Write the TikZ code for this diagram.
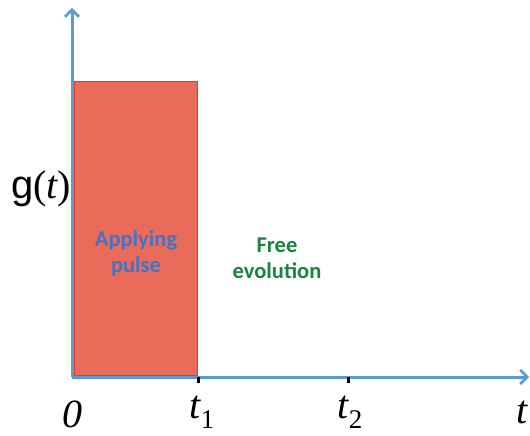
\documentclass[tikz,border=0pt]{standalone}
\usepackage{fontspec}
\setmainfont{Liberation Serif}
\newfontfamily\arialfont{Liberation Sans}
\newfontfamily\calfont{Carlito}
\usetikzlibrary{arrows.meta}
\definecolor{axisblue}{RGB}{91,155,213}
\definecolor{pulsefill}{RGB}{233,108,90}
\definecolor{pulseedge}{RGB}{232,55,47}
\definecolor{txtblue}{RGB}{68,114,196}
\definecolor{txtgreen}{RGB}{24,132,60}
\newcommand{\tsub}[1]{{\itshape t}\raisebox{-0.24em}{\fontsize{27}{27}\selectfont #1}}
\begin{document}
\begin{tikzpicture}[x=1pt,y=-1pt,
  axis/.style={draw=axisblue,line width=3pt,-{Straight Barb[length=7pt,width=14pt,line width=2.5pt]}},
  tick/.style={draw=black,line width=3pt},
  bigtxt/.style={font=\fontsize{40}{40}\selectfont,inner sep=0pt},
  lbl/.style={font=\calfont\bfseries\fontsize{22.5}{26}\selectfont,align=center,inner sep=0pt}]
\useasboundingbox (0,0) rectangle (530,436);
\coordinate (o) at (72,377);
\coordinate (ytop) at (72,8);
\coordinate (xend) at (529,377);
\node[draw=pulseedge,fill=pulsefill,line width=1pt,minimum width=123pt,minimum height=294pt,inner sep=0pt,anchor=north west] (pulse) at (74,81) {};
\draw[axis] (o) -- (ytop);
\draw[axis] (o) -- (xend);
\coordinate (k1) at (198,377);
\coordinate (k2) at (348,377);
\draw[tick] (k1) -- ++(0,6);
\draw[tick] (k2) -- ++(0,6);
\node[bigtxt] (zero) at (72,414) {\itshape 0};
\node[bigtxt] (t1) at (202,412) {\tsub{1}};
\node[bigtxt] (t2) at (350,412) {\tsub{2}};
\node[bigtxt,anchor=west] (tt) at (516,412) {\itshape t};
\node[bigtxt] (g) at (41,189) {{\arialfont g}(\itshape t\upshape)};
\node[lbl,text=txtblue] (apply) at (136,253) {Applying\\pulse};
\node[lbl,text=txtgreen] (free) at (277,258) {Free\\evolution};
\end{tikzpicture}
\end{document}
